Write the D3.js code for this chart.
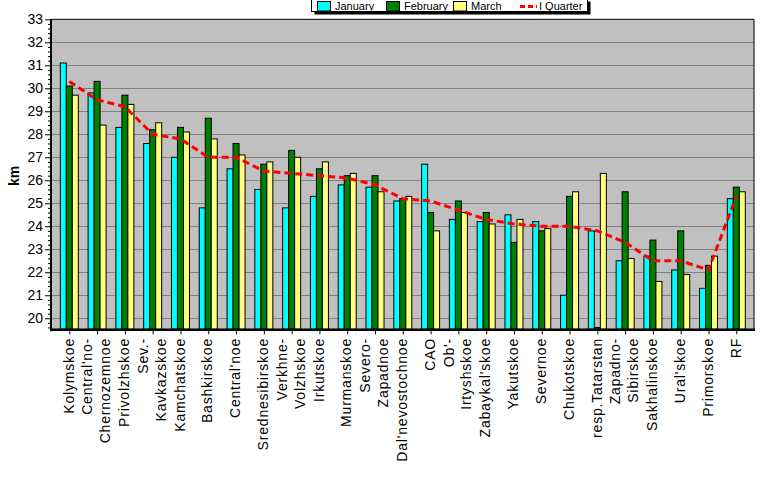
<!DOCTYPE html>
<html><head><meta charset="utf-8">
<script src="https://cdn.jsdelivr.net/npm/d3@7/dist/d3.min.js"></script>
<style>
html,body{margin:0;padding:0;background:#fff;}
svg{display:block;font-family:"Liberation Sans",Arial,sans-serif;}
</style></head>
<body>
<svg id="chart" width="777" height="479"></svg>
<script>
const categories = [
  ["Kolymskoe"], ["Central'no-","Chernozemnoe"], ["Privolzhskoe"], ["Sev.-","Kavkazskoe"],
  ["Kamchatskoe"], ["Bashkirskoe"], ["Central'noe"], ["Srednesibirskoe"], ["Verkhne-","Volzhskoe"],
  ["Irkutskoe"], ["Murmanskoe"], ["Severo-","Zapadnoe"], ["Dal'nevostochnoe"], ["CAO"],
  ["Ob'-","Irtyshskoe"], ["Zabaykal'skoe"], ["Yakutskoe"], ["Severnoe"], ["Chukotskoe"],
  ["resp.Tatarstan"], ["Zapadno-","Sibirskoe"], ["Sakhalinskoe"], ["Ural'skoe"], ["Primorskoe"], ["RF"]
];
const january  = [31.1,29.8,28.3,27.6,27.0,24.8,26.5,25.6,24.8,25.3,25.8,25.7,25.1,26.7,24.3,24.2,24.5,24.2,21.0,23.8,22.5,22.7,22.1,21.3,25.2];
const february = [30.1,30.3,29.7,28.2,28.3,28.7,27.6,26.7,27.3,26.5,26.2,26.2,25.2,24.6,25.1,24.6,23.3,23.8,25.3,19.6,25.5,23.4,23.8,22.3,25.7];
const march    = [29.7,28.4,29.3,28.5,28.1,27.8,27.1,26.8,27.0,26.8,26.3,25.5,25.3,23.8,24.6,24.1,24.3,23.9,25.5,26.3,22.6,21.6,21.9,22.7,25.5];
const quarter  = [30.3,29.5,29.2,28.0,27.8,27.0,27.0,26.4,26.3,26.2,26.1,25.8,25.2,25.1,24.7,24.3,24.1,24.0,24.0,23.8,23.3,22.5,22.5,22.1,25.3];
const seriesNames = ["January","February","March","I Quarter"];
const yTicks = [20,21,22,23,24,25,26,27,28,29,30,31,32,33];

const colors = {January:"#00ffff", February:"#008000", March:"#ffff80", "I Quarter":"#ff0000"};
const svg = d3.select("#chart");
const L = 51, R = 754, T = 19.3, B = 329.3;

const idx = categories.map((c,i)=>i);
const x = d3.scalePoint().domain(idx).range([69.3, 736.3]);
const inner = d3.scaleBand().domain(["January","February","March"]).range([-9, 9]);
const y = d3.scaleLinear().domain([19.52, 33]).range([B, T]);

// plot background
svg.append("rect").attr("x",L).attr("y",T).attr("width",R-L).attr("height",B-T).attr("fill","#c0c0c0");

// gridlines
svg.append("g").selectAll("line").data(yTicks.filter(v=>v<33)).join("line")
  .attr("x1",L).attr("x2",R).attr("y1",d=>Math.round(y(d))+0.5).attr("y2",d=>Math.round(y(d))+0.5)
  .attr("stroke","#808080").attr("stroke-width",1);

// bars
const barData = [];
idx.forEach(i=>{
  [["January",january],["February",february],["March",march]].forEach(([s,arr])=>{
    barData.push({i, s, v: arr[i]});
  });
});
svg.append("g").selectAll("rect").data(barData).join("rect")
  .attr("x", d=> x(d.i) + inner(d.s))
  .attr("width", inner.bandwidth())
  .attr("y", d=> y(d.v))
  .attr("height", d=> B - y(d.v))
  .attr("fill", d=> colors[d.s])
  .attr("stroke","#000").attr("stroke-width",1);

// border
svg.append("line").attr("x1",L).attr("x2",R).attr("y1",T).attr("y2",T).attr("stroke","#000");
svg.append("line").attr("x1",R).attr("x2",R).attr("y1",T).attr("y2",B).attr("stroke","#000");

// quarter line
const line = d3.line().x((d,i)=>x(i)).y(d=>y(d));
svg.append("path").datum(quarter).attr("d",line).attr("fill","none")
  .attr("stroke","#ff0000").attr("stroke-width",3).attr("stroke-dasharray","7,4");

// y axis
const yAxis = d3.axisLeft(y).tickValues(yTicks).tickSize(6).tickPadding(2).tickFormat(d3.format("d"));
const gy = svg.append("g").attr("transform",`translate(${L},0)`).call(yAxis);
gy.select(".domain").remove();
gy.selectAll(".tick line").attr("stroke","#000");
gy.selectAll(".tick text").attr("font-size",14).attr("fill","#000").attr("font-family","Liberation Sans, Arial, sans-serif");
const minor = d3.range(19.6, 33.001, 0.2).filter(v=>Math.abs(v-Math.round(v))>0.01);
const gm = svg.append("g").attr("transform",`translate(${L},0)`).call(d3.axisLeft(y).tickValues(minor).tickSize(3).tickFormat(""));
gm.select(".domain").remove();
gm.selectAll(".tick line").attr("stroke","#000");
svg.append("line").attr("x1",L).attr("x2",L).attr("y1",T).attr("y2",B+2).attr("stroke","#000").attr("stroke-width",2);

// x axis
const gx = svg.append("g").attr("transform",`translate(0,${B})`).call(d3.axisBottom(x).tickSize(5).tickFormat(""));
gx.select(".domain").remove();
gx.selectAll(".tick line").attr("stroke","#000");
svg.append("line").attr("x1",L).attr("x2",R+1).attr("y1",B+0.5).attr("y2",B+0.5).attr("stroke","#000").attr("stroke-width",2.5);

// x labels
const lab = svg.append("g").selectAll("text").data(idx).join("text")
  .attr("transform", d=>`translate(${x(d)},338) rotate(-90)`)
  .attr("text-anchor","end").attr("font-size",14).attr("letter-spacing",0.8).attr("fill","#000");
lab.each(function(d){
  const lines = categories[d];
  const t = d3.select(this);
  const off = -(lines.length-1)*17.7/2;
  lines.forEach((s,k)=>{
    t.append("tspan").attr("x",0).attr("y", off + k*17.7).attr("dy","0.3em").text(s);
  });
});

// y title
svg.append("text").attr("transform","translate(19,176) rotate(-90)").attr("text-anchor","middle")
  .attr("font-size",14).attr("font-weight","bold").text("km");

// legend
const lg = svg.append("g");
lg.append("rect").attr("x",314.5).attr("y",1.5).attr("width",276).attr("height",13).attr("fill","#000");
lg.append("rect").attr("x",311.5).attr("y",-1.5).attr("width",276).attr("height",13).attr("fill","#fff").attr("stroke","#000");
const legX = [317, 386, 453, 520];
seriesNames.forEach((s,i)=>{
  if (i<3) {
    lg.append("rect").attr("x",legX[i]+0.5).attr("y",1.5).attr("width",13).attr("height",9.5)
      .attr("fill",colors[s]).attr("stroke","#000");
    lg.append("text").attr("x",legX[i]+18).attr("y",10).attr("font-size",11).attr("fill","#000").text(s);
  } else {
    lg.append("line").attr("x1",legX[i]).attr("x2",legX[i]+17).attr("y1",6.5).attr("y2",6.5)
      .attr("stroke",colors[s]).attr("stroke-width",3).attr("stroke-dasharray","5,3");
    lg.append("text").attr("x",legX[i]+19).attr("y",10).attr("font-size",11).attr("fill","#000").text(s);
  }
});
</script>
</body></html>
